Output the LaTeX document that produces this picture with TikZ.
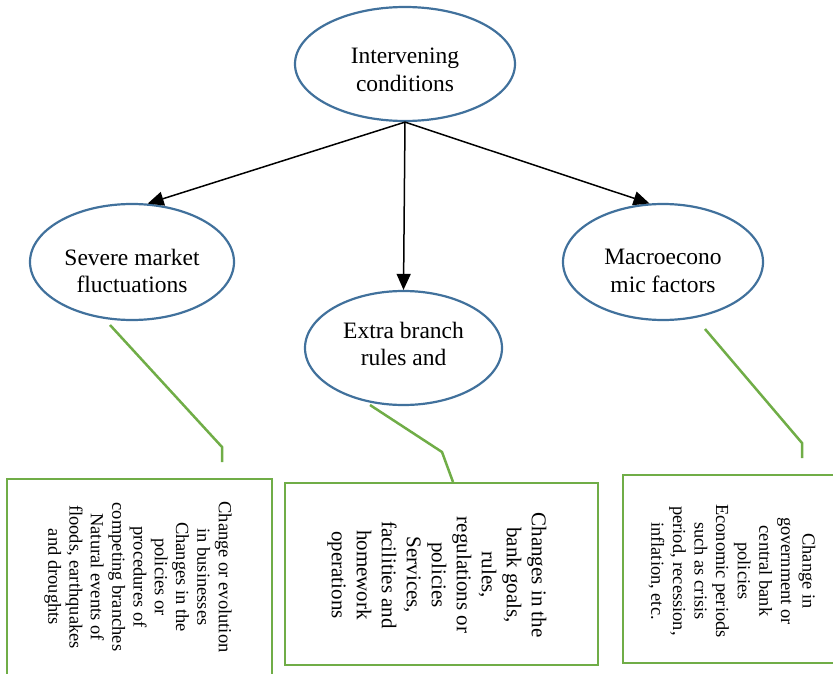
\documentclass[tikz,border=0pt]{standalone}
\usepackage{fontspec}
\setmainfont{Liberation Serif}
\usetikzlibrary{shapes.geometric,arrows.meta}
\definecolor{ellblue}{RGB}{65,113,156}
\definecolor{boxgreen}{RGB}{112,173,71}
\tikzset{
  ellnode/.style={draw=ellblue, line width=2.2pt, ellipse, inner sep=0pt},
  elltext/.style={align=center, inner sep=0pt, font=\fontsize{23.5}{27.5}\selectfont},
  gbox/.style={draw=boxgreen, line width=2.5pt, rectangle, inner sep=0pt},
  boxtext/.style={rotate=-90, align=center, inner sep=0pt},
  glink/.style={draw=boxgreen, line width=2.5pt},
  arr/.style={draw=black, line width=1.5pt, -{Triangle[length=16pt,width=14pt]}}
}
\begin{document}
\begin{tikzpicture}[x=1pt,y=-1pt]
\useasboundingbox (0,0) rectangle (833,674);
\clip (0,0) rectangle (833,674);
% ellipses
\node[ellnode, minimum width=220pt, minimum height=114pt] (top) at (405,64) {};
\node[ellnode, minimum width=204pt, minimum height=116pt] (left) at (132,262) {};
\node[ellnode, minimum width=197pt, minimum height=114pt] (mid) at (403.5,348) {};
\node[ellnode, minimum width=200pt, minimum height=116pt] (right) at (663,262) {};
% ellipse texts
\node[elltext] (topt) at (405,70) {Intervening\\conditions};
\node[elltext] (leftt) at (132,271) {Severe market\\fluctuations};
\node[elltext] (midt) at (403.5,344) {Extra branch\\rules and};
\node[elltext] (rightt) at (663,271) {Macroecono\\mic factors};
% arrows
\draw[arr] (top.south) -- (left.75);
\draw[arr] (top.south) -- (mid.north);
\draw[arr] (top.south) -- (right.103);
% boxes
\node[gbox, minimum width=265pt, minimum height=240pt] (b1) at (139.5,599) {};
\node[gbox, minimum width=313pt, minimum height=182pt] (b2) at (441.5,574) {};
\node[gbox, minimum width=218pt, minimum height=188pt] (b3) at (732,569) {};
% box texts
\node[boxtext, font=\fontsize{18.5}{21.3}\selectfont] (t1) at (138,577) {Change or evolution\\in businesses\\Changes in the\\policies or\\procedures of\\competing branches\\Natural events of\\floods, earthquakes\\and droughts};
\node[boxtext, font=\fontsize{21}{25}\selectfont] (t2) at (437,575) {Changes in the\\bank goals,\\rules,\\regulations or\\policies\\Services,\\facilities and\\homework\\operations};
\node[boxtext, font=\fontsize{18.4}{21.6}\selectfont] (t3) at (732,571) {Change in\\government or\\central bank\\policies\\Economic periods\\such as crisis\\period, recession,\\inflation, etc.};
% green links
\coordinate (g1a) at (110,325);
\coordinate (g1b) at (222,447);
\coordinate (g1c) at (222,462);
\coordinate (g2a) at (370,405);
\coordinate (g2b) at (442,452);
\coordinate (g2c) at (453,482);
\coordinate (g3a) at (705,329);
\coordinate (g3b) at (802,443);
\coordinate (g3c) at (802,458);
\draw[glink] (g1a) -- (g1b) -- (g1c);
\draw[glink] (g2a) -- (g2b) -- (g2c);
\draw[glink] (g3a) -- (g3b) -- (g3c);
\end{tikzpicture}
\end{document}
